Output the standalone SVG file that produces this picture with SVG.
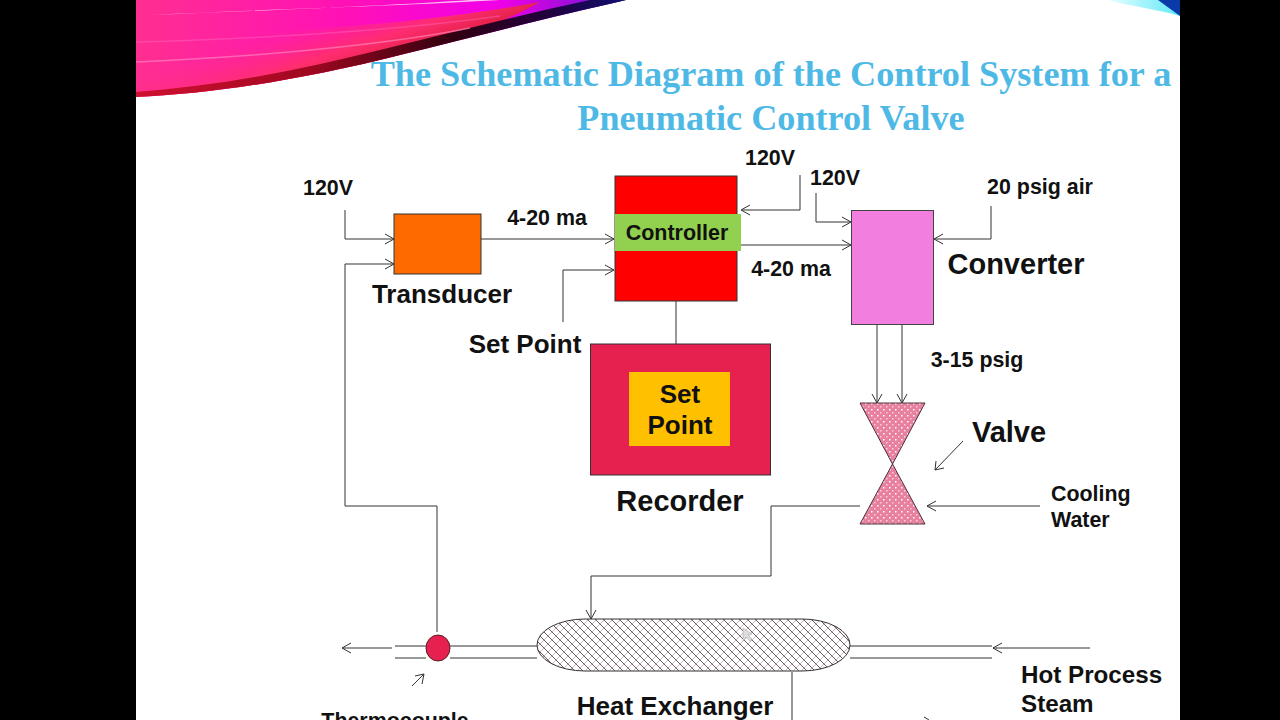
<svg xmlns="http://www.w3.org/2000/svg" width="1280" height="720" viewBox="0 0 1280 720">
<style>
.l{fill:none;stroke:#333;stroke-width:1}
text{font-family:"Liberation Sans",Arial,sans-serif;fill:#111;font-weight:700}
.t{font-family:"Liberation Serif","Times New Roman",serif;font-weight:700;font-size:36.200px;fill:#4fb9e6;text-anchor:middle}
.m{font-size:21.400px}
.b{font-size:26px}
.h{font-size:29px}
.c{font-size:21.500px}
.p{font-size:24.200px}
</style>
<defs>
<linearGradient id="sw" gradientUnits="userSpaceOnUse" x1="136" y1="0" x2="620" y2="0"><stop offset="0" stop-color="#ff2f90"/><stop offset=".45" stop-color="#ff10b8"/><stop offset=".75" stop-color="#f000e8"/><stop offset=".93" stop-color="#9010d8"/><stop offset="1" stop-color="#1a0a60"/></linearGradient>
<linearGradient id="sd" gradientUnits="userSpaceOnUse" x1="300" y1="25" x2="320" y2="85"><stop offset="0" stop-color="#ff3080" stop-opacity="0"/><stop offset=".6" stop-color="#ff3068" stop-opacity=".9"/><stop offset="1" stop-color="#e02040"/></linearGradient>
<linearGradient id="edge" gradientUnits="userSpaceOnUse" x1="136" y1="0" x2="626" y2="0"><stop offset="0" stop-color="#d01030"/><stop offset=".35" stop-color="#a00820"/><stop offset=".65" stop-color="#300010"/><stop offset=".85" stop-color="#200040"/><stop offset="1" stop-color="#101070"/></linearGradient>
<linearGradient id="cy" x1="0" y1="0" x2="1" y2="0"><stop offset="0" stop-color="#e8ffff"/><stop offset="1" stop-color="#60e8f8"/></linearGradient>
<pattern id="dots" width="6" height="6" patternUnits="userSpaceOnUse"><rect width="6" height="6" fill="#e8809f"/><rect x="1" y="1" width="1.500" height="1.500" fill="#fff"/><rect x="4" y="4" width="1.500" height="1.500" fill="#fbd0dd"/></pattern>
<pattern id="hatch" width="8" height="8" patternUnits="userSpaceOnUse"><rect width="8" height="8" fill="#fff"/><path d="M0 0L8 8" stroke="#4a2c38" stroke-width=".8"/><path d="M0 8L8 0" stroke="#c0a4b0" stroke-width=".8"/></pattern>
</defs>
<rect width="1280" height="720" fill="#000"/>
<rect x="136" width="1044" height="720" fill="#fff"/>
<g id="decor">
<path d="M136 0H626C560 15 480 35 400 55C300 80 210 94 136 97Z" fill="url(#sw)"/>
<path d="M136 97V35C300 33 430 22 540 2C500 25 450 40 400 55C300 80 210 94 136 97Z" fill="url(#sd)"/>
<path d="M136 97C210 94 300 80 400 55C480 35 560 15 626 0H590C520 15 450 33 380 50C300 70 220 86 136 92Z" fill="url(#edge)"/>
<path d="M150 15C280 10 400 5 470 0H500C400 6 270 9 150 15Z" fill="#ffe0f8" opacity=".85"/>
<path d="M136 62C280 56 400 42 470 28" fill="none" stroke="#ff90c8" stroke-width="1.500" opacity=".6"/>
<path d="M136 42C280 38 400 30 500 16" fill="none" stroke="#ff70c0" stroke-width="1.500" opacity=".4"/>
<path d="M1108 0H1180V16C1160 10 1130 6 1108 0Z" fill="url(#cy)"/>
<path d="M1158 0H1180V16Z" fill="#0a3aa8"/>
</g>
<text class="t" x="771" y="86">The Schematic Diagram of the Control System for a</text>
<text class="t" x="771" y="130">Pneumatic Control Valve</text>
<g id="connectors">
<path class="l" d="M345 210V239H394M437 632V506H345V264H394M481 239H614M563 322V270H614M800 175V210H742M816 193V222H851M741 245H851M991 206V239H934M676 301V344M877 325V403M902 325V403M1040 506H927M860 506H771V576H591V619M395 646H426M395 658H426M450 646H537M450 658H537M850 646H992M850 658H992M792 672V720M342 648H392M993 648H1090M963 441L935 470M424 674L412 686"/>
<path class="l" d="M385 234L394 239L385 244M385 259L394 264L385 269M605 234L614 239L605 244M605 265L614 270L605 275M750 205L741 210L750 215M842 217L851 222L842 227M842 240L851 245L842 250M943 234L934 239L943 244M872 394L877 403L882 394M897 394L902 403L907 394M936 501L927 506L936 511M586 610L591 619L596 610M351 643L342 648L351 653M1002 643L993 648L1002 653M936 461L935 470L944 468M415 676L424 674L422 684M924 717L929 720"/>
</g>
<g id="transducer"><rect x="394" y="214" width="87" height="60" fill="#ff6a00" stroke="#333"/><text class="b" x="442" y="303" text-anchor="middle">Transducer</text></g>
<g id="controller"><rect x="615" y="176" width="122" height="125" fill="#ff0000" stroke="#333"/><rect x="615" y="214" width="126" height="37" fill="#92d050"/><text class="c" x="677" y="240" text-anchor="middle">Controller</text></g>
<g id="converter"><rect x="851.500" y="210.500" width="82" height="114" fill="#f27fe0" stroke="#444"/><text class="h" x="1016" y="274" text-anchor="middle">Converter</text></g>
<g id="recorder"><rect x="590.500" y="344" width="180" height="131" fill="#e6214f" stroke="#333"/><rect x="629" y="372" width="101" height="74" fill="#ffc000"/><text class="b" x="680" y="403" text-anchor="middle">Set</text><text class="b" x="680" y="434" text-anchor="middle">Point</text><text class="h" x="680" y="511" text-anchor="middle">Recorder</text></g>
<g id="valve"><path d="M860 403H925L892.500 464L925 524H860L892.500 464Z" fill="url(#dots)" stroke="#4a3038"/><text class="h" x="1009" y="442" text-anchor="middle">Valve</text></g>
<g id="heat-exchanger"><rect x="537" y="619" width="313" height="52" rx="48" ry="26" fill="url(#hatch)" stroke="#333"/><path d="M743 628V641L746 637L750 641L752 639L748 635L752 634Z" fill="#ddd" stroke="#aaa" stroke-width=".6"/><text class="b" x="675" y="715" text-anchor="middle">Heat Exchanger</text></g>
<g id="thermocouple"><ellipse cx="438" cy="648" rx="12" ry="13" fill="#e6214f" stroke="#522"/><text class="m" x="395" y="728" text-anchor="middle">Thermocouple</text></g>
<g id="labels">
<text class="m" x="328" y="195" text-anchor="middle">120V</text>
<text class="m" x="770" y="165" text-anchor="middle">120V</text>
<text class="m" x="835" y="185" text-anchor="middle">120V</text>
<text class="m" x="1040" y="194" text-anchor="middle">20 psig air</text>
<text class="m" x="547" y="225" text-anchor="middle">4-20 ma</text>
<text class="m" x="791" y="276" text-anchor="middle">4-20 ma</text>
<text class="b" x="525" y="353" text-anchor="middle">Set Point</text>
<text class="m" x="977" y="367" text-anchor="middle">3-15 psig</text>
<text class="m" x="1051" y="501">Cooling</text>
<text class="m" x="1051" y="527">Water</text>
<text class="p" x="1021" y="683">Hot Process</text>
<text class="p" x="1021" y="712">Steam</text>
</g>
</svg>
